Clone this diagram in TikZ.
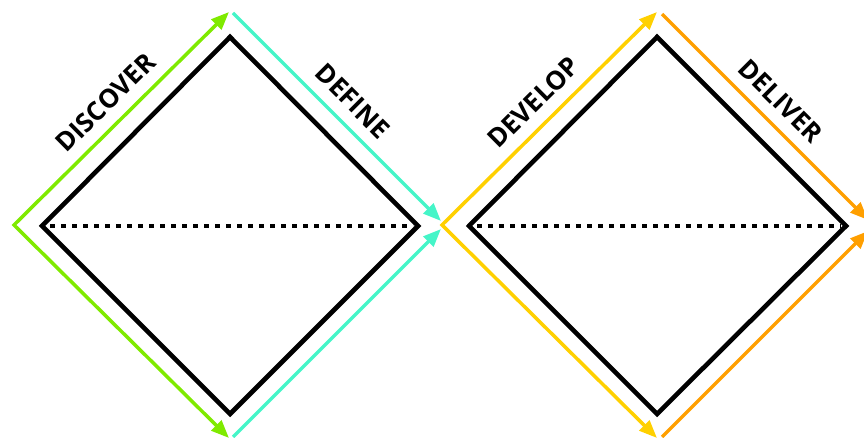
\documentclass[tikz,border=0pt]{standalone}
\usepackage{fontspec}
\setmainfont{Open Sans}
\usepackage{tikz}
\usetikzlibrary{
    positioning,
    arrows.meta
}

\definecolor{discovergreen}{HTML}{7FEA00}
\definecolor{definecyan}{HTML}{45F5C8}
\definecolor{developyellow}{HTML}{FFD000}
\definecolor{deliverorange}{HTML}{FF9F00}

\begin{document}
\begin{tikzpicture}[
    x=1pt, y=1pt,
    >={Triangle[length=18pt, width=14pt]},
    diamondline/.style={draw=black, line width=4.6pt, line join=miter},
    midline/.style={draw=black, line width=4.8pt, dash pattern=on 4.8pt off 6.2pt},
    phasearrow/.style={line width=3.5pt},
    phasetext/.style={sloped, above=13pt, inner sep=0pt, font=\fontsize{26}{30}\selectfont\bfseries}
]
\useasboundingbox (0,0) rectangle (864,438);

% the two diamonds
\coordinate (d1w) at (42,212);
\coordinate (d1n) at (230,401);
\coordinate (d1e) at (418,212);
\coordinate (d1s) at (230,24);
\coordinate (d2w) at (469,212);
\coordinate (d2n) at (657,401);
\coordinate (d2e) at (846,212);
\coordinate (d2s) at (657,24);

\draw[diamondline] (d1w) -- (d1n) -- (d1e) -- (d1s) -- cycle;
\draw[diamondline] (d2w) -- (d2n) -- (d2e) -- (d2s) -- cycle;
\draw[midline, shorten <=8pt, shorten >=5pt] (d1w) -- (d1e);
\draw[midline, shorten <=8pt, shorten >=5pt] (d2w) -- (d2e);

% arrow ends
\coordinate (gleft) at (14,213);
\coordinate (gtop) at (229,426);
\coordinate (gbot) at (229,0);
\coordinate (ctop) at (233,425);
\coordinate (ctip) at (441,217);
\coordinate (cbot) at (233,1);
\coordinate (cend) at (441,209);
\coordinate (yleft) at (442,213);
\coordinate (ytop) at (657,426);
\coordinate (ybot) at (657,0);
\coordinate (otop) at (662,424);
\coordinate (otip) at (868,218);
\coordinate (obot) at (662,1);
\coordinate (oend) at (868,207);

\draw[phasearrow, discovergreen, <->] (gtop) -- (gleft) -- (gbot);
\draw[phasearrow, definecyan, ->] (ctop) -- (ctip);
\draw[phasearrow, definecyan, ->] (cbot) -- (cend);
\draw[phasearrow, developyellow, <->] (ytop) -- (yleft) -- (ybot);
\draw[phasearrow, deliverorange, ->] (otop) -- (otip);
\draw[phasearrow, deliverorange, ->] (obot) -- (oend);

% phase names
\path (gleft) -- node[phasetext] (discover) {DISCOVER} (gtop);
\path (ctop) -- node[phasetext] (define) {DEFINE} (ctip);
\path (yleft) -- node[phasetext] (develop) {DEVELOP} (ytop);
\path (otop) -- node[phasetext] (deliver) {DELIVER} (otip);
\end{tikzpicture}
\end{document}
